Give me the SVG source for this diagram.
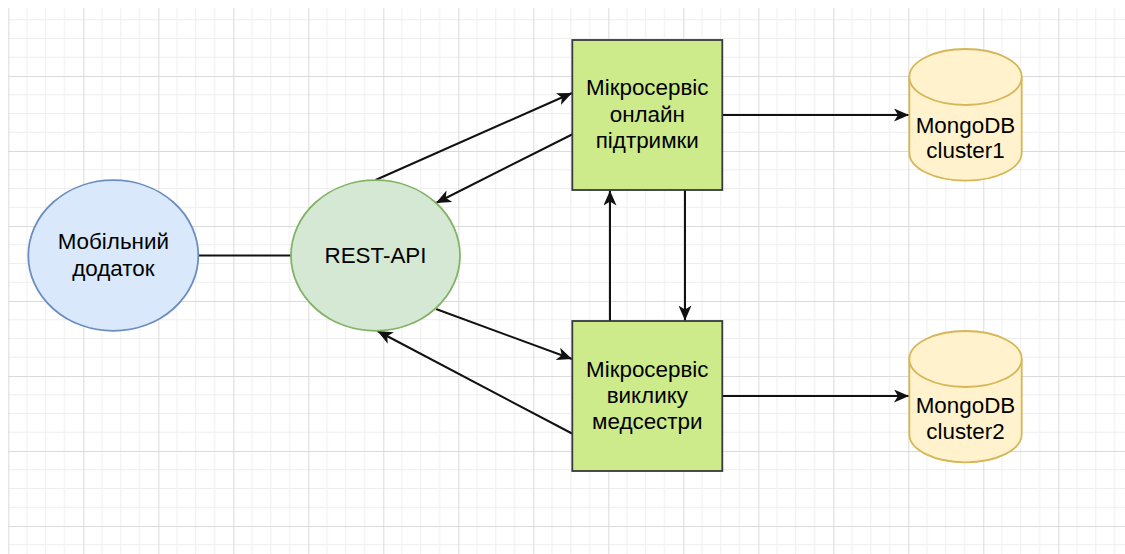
<svg xmlns="http://www.w3.org/2000/svg" width="1125" height="554" viewBox="0 0 1125 554">
<style>
.lbl{font-family:"Liberation Sans",Arial,sans-serif;font-size:22.4px;fill:#000;text-anchor:middle}
.edge{stroke:#111;stroke-width:2;fill:none}
.box{fill:#cdeb8b;stroke:#36393d;stroke-width:1.8}
.db{fill:#fff2cc;stroke:#d6b656;stroke-width:1.8}
</style>
<defs>
<pattern id="grid" patternUnits="userSpaceOnUse" x="8.3" y="1" width="75" height="75">
<path d="M18.75,0V75M37.5,0V75M56.25,0V75M0,18.75H75M0,37.5H75M0,56.25H75" stroke="#eeeeee" stroke-width="1" fill="none"/>
<path d="M0.5,0V75M0,0.5H75" stroke="#dadada" stroke-width="1" fill="none"/>
</pattern>
<marker id="arr" markerUnits="userSpaceOnUse" markerWidth="16" markerHeight="13" refX="15" refY="6.5" orient="auto">
<path d="M0,0 L15,6.5 L0,13 L4,6.5 Z" fill="#111"/>
</marker>
</defs>
<rect width="1125" height="554" fill="#ffffff"/>
<rect x="8" y="8" width="1117" height="546" fill="url(#grid)"/>
<g id="connectors">
<line class="edge" x1="198" y1="255.5" x2="291" y2="255.5"/>
<line class="edge" x1="375.5" y1="180" x2="572" y2="93" marker-end="url(#arr)"/>
<line class="edge" x1="575" y1="133" x2="436" y2="203" marker-end="url(#arr)"/>
<line class="edge" x1="610" y1="321" x2="610" y2="190.5" marker-end="url(#arr)"/>
<line class="edge" x1="685" y1="190" x2="685" y2="320.5" marker-end="url(#arr)"/>
<line class="edge" x1="436" y1="309" x2="572" y2="359" marker-end="url(#arr)"/>
<line class="edge" x1="572" y1="433.5" x2="377.5" y2="331" marker-end="url(#arr)"/>
<line class="edge" x1="722" y1="115" x2="909" y2="115" marker-end="url(#arr)"/>
<line class="edge" x1="722" y1="396" x2="909" y2="396" marker-end="url(#arr)"/>
</g>
<g id="mobile">
<ellipse cx="113.3" cy="255.5" rx="85" ry="75.3" fill="#dae8fc" stroke="#6c8ebf" stroke-width="1.8"/>
<text class="lbl" x="113.3" y="249">Мобільний</text>
<text class="lbl" x="113.3" y="275.5">додаток</text>
</g>
<g id="rest">
<ellipse cx="375.5" cy="255.5" rx="84.5" ry="75.3" fill="#d5e8d4" stroke="#82b366" stroke-width="1.8"/>
<text class="lbl" x="375.5" y="262.5">REST-API</text>
</g>
<g id="ms1">
<rect class="box" x="572.3" y="40" width="150" height="150"/>
<text class="lbl" x="647.3" y="95">Мікросервіс</text>
<text class="lbl" x="647.3" y="121.5">онлайн</text>
<text class="lbl" x="647.3" y="148">підтримки</text>
</g>
<g id="ms2">
<rect class="box" x="572.3" y="321" width="150" height="150"/>
<text class="lbl" x="647.3" y="376.5">Мікросервіс</text>
<text class="lbl" x="647.3" y="402.5">виклику</text>
<text class="lbl" x="647.3" y="428.5">медсестри</text>
</g>
<g id="db1">
<path class="db" d="M909.3,77 A56.2,28 0 0 1 1021.7,77 L1021.7,152.7 A56.2,28 0 0 1 909.3,152.7 Z"/>
<path class="db" fill="none" d="M909.3,77 A56.2,28 0 0 0 1021.7,77"/>
<text class="lbl" x="965.5" y="132.7">MongoDB</text>
<text class="lbl" x="965.5" y="158.3">cluster1</text>
</g>
<g id="db2">
<path class="db" d="M909.3,359 A56.2,28 0 0 1 1021.7,359 L1021.7,434.3 A56.2,28 0 0 1 909.3,434.3 Z"/>
<path class="db" fill="none" d="M909.3,359 A56.2,28 0 0 0 1021.7,359"/>
<text class="lbl" x="965.5" y="413.3">MongoDB</text>
<text class="lbl" x="965.5" y="439.3">cluster2</text>
</g>
</svg>
